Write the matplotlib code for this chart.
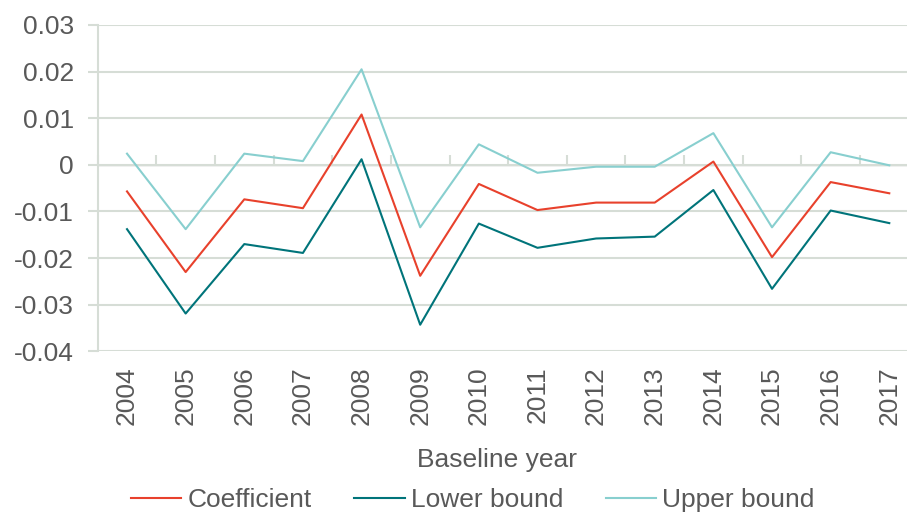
import matplotlib
matplotlib.use("Agg")
import matplotlib.pyplot as plt
import numpy as np

years = ["2004", "2005", "2006", "2007", "2008", "2009", "2010",
         "2011", "2012", "2013", "2014", "2015", "2016", "2017"]
coefficient = [-0.0057, -0.0230, -0.0074, -0.0093, 0.0108, -0.0238, -0.0041,
               -0.0097, -0.0081, -0.0081, 0.0007, -0.0198, -0.0037, -0.0061]
lower_bound = [-0.0138, -0.0319, -0.0170, -0.0189, 0.0012, -0.0343, -0.0126,
               -0.0178, -0.0158, -0.0154, -0.0054, -0.0266, -0.0098, -0.0125]
upper_bound = [0.0024, -0.0138, 0.0024, 0.0008, 0.0205, -0.0134, 0.0044,
               -0.0017, -0.0004, -0.0004, 0.0068, -0.0134, 0.0027, -0.0001]
y_ticks = [-0.04, -0.03, -0.02, -0.01, 0, 0.01, 0.02, 0.03]
y_tick_labels = ["-0.04", "-0.03", "-0.02", "-0.01", "0", "0.01", "0.02", "0.03"]

plt.rcParams["font.family"] = ["Liberation Sans", "DejaVu Sans"]
TEXT = "#595959"
GRID = "#D6DDD6"
FS = 19

W, H = 907, 514
fig = plt.figure(figsize=(W / 100, H / 100), dpi=100)
left, right, top, bottom = 97.7, 918.6, 25.0, 351.3
ax = fig.add_axes([left / W, 1 - bottom / H, (right - left) / W, (bottom - top) / H])

x = np.arange(len(years))
ax.plot(x, coefficient, color="#E8412C", lw=1.5, label="Coefficient", zorder=3)
ax.plot(x, lower_bound, color="#00747A", lw=1.5, label="Lower bound", zorder=3)
ax.plot(x, upper_bound, color="#88CFCF", lw=1.5, label="Upper bound", zorder=3)

ax.set_xlim(-0.5, len(years) - 0.5)
ax.set_ylim(-0.04, 0.03)
ax.set_yticks(y_ticks)
ax.set_yticklabels(y_tick_labels)
ax.grid(axis="y", color=GRID, lw=1.5, zorder=0)
ax.set_axisbelow(True)

for s in ["top", "right", "bottom"]:
    ax.spines[s].set_visible(False)
ax.spines["left"].set_color(GRID)
ax.spines["left"].set_linewidth(1.5)

ax.tick_params(axis="y", length=7, width=1.5, color=GRID, labelcolor=TEXT,
               labelsize=FS, pad=10)
ax.set_xticks(x)
ax.set_xticklabels(years, rotation=90)
ax.tick_params(axis="x", length=0, labelcolor=TEXT, labelsize=FS, pad=11)

# category boundary ticks along the zero line
zero_frac = (0 - (-0.04)) / (0.03 - (-0.04))
sec = ax.secondary_xaxis(zero_frac)
sec.set_xticks(np.arange(len(years) + 1) - 0.5)
sec.set_xticklabels([])
sec.tick_params(axis="x", length=7, width=1.5, color=GRID, direction="out")
sec.spines["bottom"].set_color(GRID)
sec.spines["bottom"].set_linewidth(1.5)

fig.text(497 / W, 1 - 460 / H, "Baseline year", ha="center", va="center",
         color=TEXT, fontsize=FS)

leg = fig.legend(loc="center", bbox_to_anchor=(473 / W, 1 - 500 / H), ncol=3,
                 frameon=False, fontsize=FS, handlelength=1.9, handletextpad=0.25,
                 columnspacing=1.6, borderaxespad=0, borderpad=0)
for t in leg.get_texts():
    t.set_color(TEXT)

fig.savefig("out.png", dpi=100)
